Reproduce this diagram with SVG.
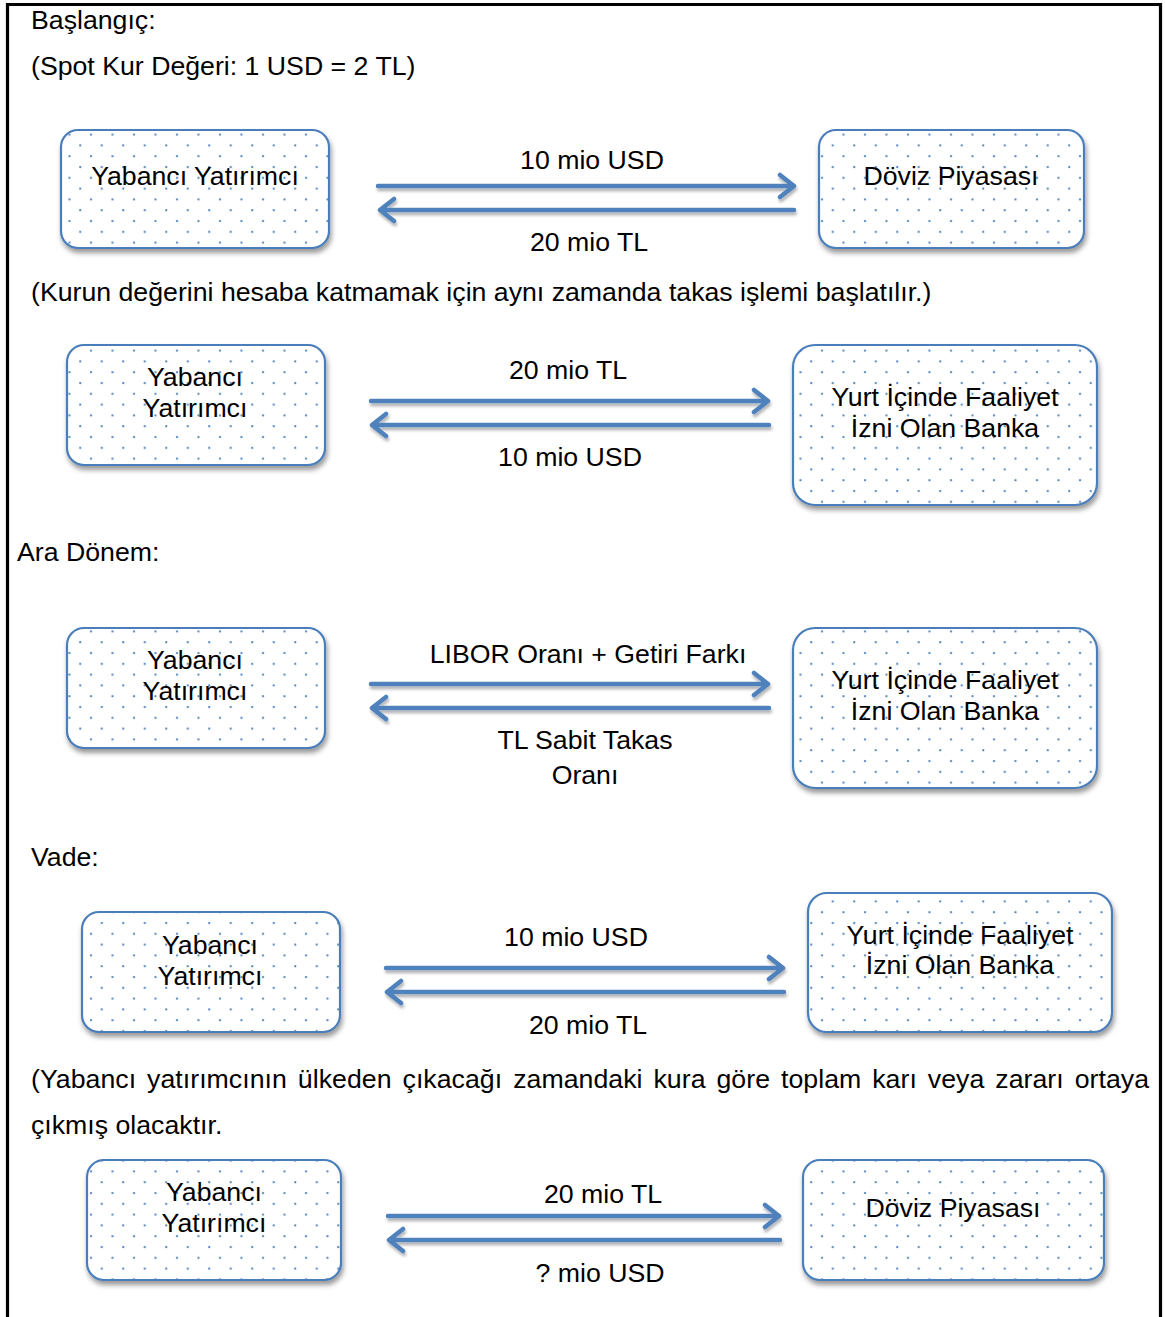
<svg xmlns="http://www.w3.org/2000/svg" width="1165" height="1317" viewBox="0 0 1165 1317">
<style>
text{font-family:"Liberation Sans",Arial,sans-serif;font-size:26.7px;fill:#000}
.c{text-anchor:middle}
.box{fill:url(#dots);stroke:#4a7ebb;stroke-width:2.2;filter:url(#sh)}
.ar{fill:none;stroke:#4f81bd;stroke-width:4.5;stroke-linecap:round;stroke-linejoin:round;filter:url(#lsh)}
</style>
<defs>
<pattern id="dots" patternUnits="userSpaceOnUse" width="21.5" height="21.6" x="0" y="0">
<rect width="21.5" height="21.6" fill="#fff"/>
<circle cx="5" cy="5" r="1.15" fill="#4f81bd"/>
<circle cx="15.75" cy="15.8" r="1.15" fill="#4f81bd"/>
</pattern>
<filter id="sh" x="-10%" y="-10%" width="125%" height="135%">
<feDropShadow dx="1.5" dy="4" stdDeviation="2.5" flood-color="#000" flood-opacity="0.4"/>
</filter>
<filter id="lsh" x="-5%" y="-100%" width="110%" height="400%">
<feDropShadow dx="1" dy="3" stdDeviation="1.8" flood-color="#000" flood-opacity="0.3"/>
</filter>
</defs>
<rect width="1165" height="1317" fill="#fff"/>
<path d="M7.5 1317 V4.5 H1160.5 V1317" fill="none" stroke="#000" stroke-width="3.2"/>

<text x="31" y="29">Başlangıç:</text>
<text x="31" y="75">(Spot Kur Değeri: 1 USD = 2 TL)</text>
<text x="31" y="301">(Kurun değerini hesaba katmamak için aynı zamanda takas işlemi başlatılır.)</text>
<text x="17" y="561">Ara Dönem:</text>
<text x="31" y="866">Vade:</text>
<text x="31" y="1088" textLength="1118" lengthAdjust="spacing" style="word-spacing:3.5px">(Yabancı yatırımcının ülkeden çıkacağı zamandaki kura göre toplam karı veya zararı ortaya</text>
<text x="31" y="1134">çıkmış olacaktır.</text>

<g id="connectors">
<path class="ar" d="M378 186 H793 M780 175 L794 186 L780 197"/>
<path class="ar" d="M794 210 H381 M394 199 L380 210 L394 221"/>
<path class="ar" d="M371 401 H767 M754 390 L768 401 L754 412"/>
<path class="ar" d="M769 425 H373 M386 414 L372 425 L386 436"/>
<path class="ar" d="M371 684 H767 M754 673 L768 684 L754 695"/>
<path class="ar" d="M769 708 H373 M386 697 L372 708 L386 719"/>
<path class="ar" d="M386 968 H782 M769 957 L783 968 L769 979"/>
<path class="ar" d="M784 992 H388 M401 981 L387 992 L401 1003"/>
<path class="ar" d="M388 1216 H778 M765 1205 L779 1216 L765 1227"/>
<path class="ar" d="M780 1240 H390 M403 1229 L389 1240 L403 1251"/>
</g>
<g id="labels">
<text class="c" x="592" y="169">10 mio USD</text>
<text class="c" x="589" y="251">20 mio TL</text>
<text class="c" x="568" y="379">20 mio TL</text>
<text class="c" x="570" y="466">10 mio USD</text>
<text class="c" x="588" y="663">LIBOR Oranı + Getiri Farkı</text>
<text class="c" x="585" y="749">TL Sabit Takas</text>
<text class="c" x="585" y="784">Oranı</text>
<text class="c" x="576" y="946">10 mio USD</text>
<text class="c" x="588" y="1034">20 mio TL</text>
<text class="c" x="603" y="1203">20 mio TL</text>
<text class="c" x="600" y="1282">? mio USD</text>
</g>

<g id="n1"><rect class="box" x="61" y="130" width="268" height="118" rx="17"/><text class="c" x="195" y="185">Yabancı Yatırımcı</text></g>
<g id="n2"><rect class="box" x="819" y="130" width="265" height="118" rx="17"/><text class="c" x="951" y="185">Döviz Piyasası</text></g>
<g id="n3"><rect class="box" x="67" y="345" width="258" height="120" rx="17"/><text class="c" x="195" y="386">Yabancı</text><text class="c" x="195" y="417">Yatırımcı</text></g>
<g id="n4"><rect class="box" x="793" y="345" width="304" height="160" rx="22"/><text class="c" x="945" y="406">Yurt İçinde Faaliyet</text><text class="c" x="945" y="437">İzni Olan Banka</text></g>
<g id="n5"><rect class="box" x="67" y="628" width="258" height="120" rx="17"/><text class="c" x="195" y="669">Yabancı</text><text class="c" x="195" y="700">Yatırımcı</text></g>
<g id="n6"><rect class="box" x="793" y="628" width="304" height="160" rx="22"/><text class="c" x="945" y="689">Yurt İçinde Faaliyet</text><text class="c" x="945" y="720">İzni Olan Banka</text></g>
<g id="n7"><rect class="box" x="82" y="912" width="258" height="120" rx="17"/><text class="c" x="210" y="954">Yabancı</text><text class="c" x="210" y="985">Yatırımcı</text></g>
<g id="n8"><rect class="box" x="808" y="893" width="304" height="139" rx="19"/><text class="c" x="960" y="944">Yurt İçinde Faaliyet</text><text class="c" x="960" y="974">İzni Olan Banka</text></g>
<g id="n9"><rect class="box" x="87" y="1160" width="254" height="120" rx="17"/><text class="c" x="214" y="1201">Yabancı</text><text class="c" x="214" y="1232">Yatırımcı</text></g>
<g id="n10"><rect class="box" x="803" y="1160" width="301" height="120" rx="17"/><text class="c" x="953" y="1217">Döviz Piyasası</text></g>
</svg>
